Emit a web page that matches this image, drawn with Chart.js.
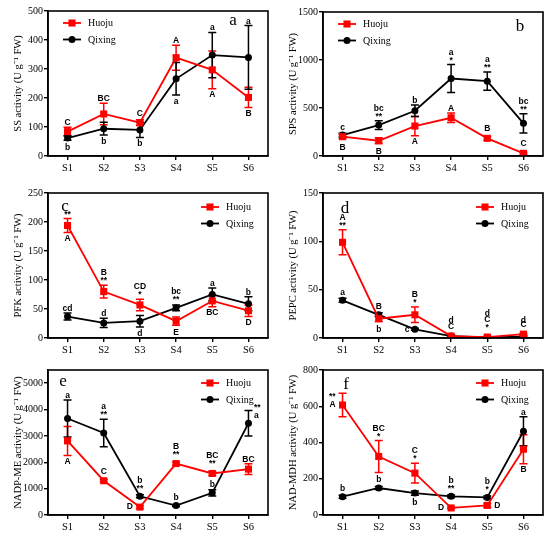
<!DOCTYPE html>
<html>
<head>
<meta charset="utf-8">
<script src="https://cdn.jsdelivr.net/npm/chart.js@4.4.1/dist/chart.umd.min.js"></script>
<style>
body{margin:0;background:#fff;width:550px;height:537px;position:relative;overflow:hidden}
canvas{position:absolute}
</style>
</head>
<body>
<canvas id="pa" width="275" height="178" style="left:0;top:0"></canvas>
<canvas id="pb" width="275" height="178" style="left:275px;top:0"></canvas>
<canvas id="pc" width="275" height="178" style="left:0;top:178px"></canvas>
<canvas id="pd" width="275" height="178" style="left:275px;top:178px"></canvas>
<canvas id="pe" width="275" height="181" style="left:0;top:356px"></canvas>
<canvas id="pf" width="275" height="181" style="left:275px;top:356px"></canvas>
<script>
const stages = ['S1','S2','S3','S4','S5','S6'];

// a - SS
const ssHuoju = [84,145,115,339,297,202];
const ssHuojuErr = [15,37,10,43,65,35];
const ssQixing = [62,94,90,266,348,340];
const ssQixingErr = [8,22,26,56,78,110];
const ssHuojuNote = ['^C','^BC','^C','^A','vA','vB'];
const ssQixingNote = ['vb','vb','vb','va','^a','^a'];

// b - SPS
const spsHuoju = [201,159,312,398,184,28];
const spsHuojuErr = [20,30,100,50,20,10];
const spsQixing = [218,322,471,807,779,340];
const spsQixingErr = [20,45,60,145,95,100];
const spsHuojuNote = ['vB','vB','vA','^A','^B','^C'];
const spsQixingNote = ['^c','^bc\n**','^b','^a\n*','^a\n**','^bc\n**'];

// c - PFK
const pfkHuoju = [194,80,57,29,64,47];
const pfkHuojuErr = [12,11,10,7,10,10];
const pfkQixing = [37,26,29,52,75,59];
const pfkQixingErr = [6,8,10,5,11,12];
const pfkHuojuNote = ['^**|vA','^B\n**','^CD\n*','vE','vBC','vD'];
const pfkQixingNote = ['^cd','^d','vd','^bc\n**','^a','^b'];

// d - PEPC
const pepcHuoju = [99,20,24,2,1,4];
const pepcHuojuErr = [13,3,8,1,1,1];
const pepcQixing = [39,24,9,2,0.5,1.5];
const pepcQixingErr = [2,2,1,1,0.5,0.5];
const pepcHuojuNote = ['^A\n**','vb','^B\n*','^C','^C\n*','^C'];
const pepcQixingNote = ['^a','^B','<c','^d\n','^d\n\n','^d\n'];

// e - NADP-ME
const nadpHuoju = [2810,1300,300,1950,1575,1740];
const nadpHuojuErr = [550,50,50,60,80,200];
const nadpQixing = [3660,3110,710,360,840,3480];
const nadpQixingErr = [700,520,60,40,120,480];
const nadpHuojuNote = ['vA','^C','<D','^B\n**','^BC\n**','^BC'];
const nadpQixingNote = ['^a','^a\n**','^b\n**','^b','^b','>**\na\n'];

// f - NAD-MDH
const mdhHuoju = [607,323,231,39,53,363];
const mdhHuojuErr = [65,88,55,5,10,80];
const mdhQixing = [101,149,121,103,97,462];
const mdhQixingErr = [8,8,12,8,8,80];
const mdhHuojuNote = ['<**\nA','^BC\n*','^C\n*','<D','>D','vB'];
const mdhQixingNote = ['^b','^b','vb','^b\n**','^b\n*','^a'];

const RED = '#ff0000';
const BLACK = '#000000';
const SERIF = 'Liberation Serif';
const SANS = 'Liberation Sans';

function makePanel(id, cfg) {
  const series = [
    {label:'Huoju', vals:cfg.h, err:cfg.he, notes:cfg.hn, color:RED, style:'rect', r:5},
    {label:'Qixing', vals:cfg.q, err:cfg.qe, notes:cfg.qn, color:BLACK, style:'circle', r:3.5}
  ];

  const decor = {
    id:'decor',
    beforeDatasetsDraw(chart) {
      const ctx = chart.ctx, y = chart.scales.y;
      ctx.save();
      series.forEach((s, i) => {
        const meta = chart.getDatasetMeta(i);
        ctx.strokeStyle = s.color;
        ctx.lineWidth = 1.5;
        s.vals.forEach((v, j) => {
          const px = meta.data[j].x;
          const t = y.getPixelForValue(v + s.err[j]);
          const b = Math.min(y.getPixelForValue(v - s.err[j]), chart.chartArea.bottom);
          ctx.beginPath();
          ctx.moveTo(px, t); ctx.lineTo(px, b);
          ctx.moveTo(px - 4, t); ctx.lineTo(px + 4, t);
          ctx.moveTo(px - 4, b); ctx.lineTo(px + 4, b);
          ctx.stroke();
        });
      });
      ctx.restore();
    },
    afterDatasetsDraw(chart) {
      const ctx = chart.ctx, y = chart.scales.y, a = chart.chartArea;
      ctx.save();
      // letters and stars
      ctx.fillStyle = '#000';
      ctx.font = 'bold 8.5px "' + SANS + '"';
      const lh = 8;
      series.forEach((s, i) => {
        const meta = chart.getDatasetMeta(i);
        s.notes.forEach((n, j) => {
          const px = meta.data[j].x, py = meta.data[j].y;
          const t = Math.min(y.getPixelForValue(s.vals[j] + s.err[j]), py - s.r);
          const b = Math.max(y.getPixelForValue(s.vals[j] - s.err[j]), py + s.r);
          n.split('|').forEach(part => {
            const dir = part[0];
            const lines = part.slice(1).split('\n');
            if (dir === '^') {
              ctx.textAlign = 'center'; ctx.textBaseline = 'alphabetic';
              lines.forEach((L, k) => ctx.fillText(L, px, t - 2 - (lines.length - 1 - k) * lh));
            } else if (dir === 'v') {
              ctx.textAlign = 'center'; ctx.textBaseline = 'top';
              lines.forEach((L, k) => ctx.fillText(L, px, b + 2 + k * lh));
            } else {
              ctx.textAlign = dir === '<' ? 'right' : 'left';
              ctx.textBaseline = 'middle';
              const xx = dir === '<' ? px - s.r - 2 : px + s.r + 2;
              lines.forEach((L, k) => ctx.fillText(L, xx, py - (lines.length - 1 - k) * lh));
            }
          });
        });
      });
      // frame
      ctx.strokeStyle = '#000';
      ctx.lineWidth = 1.6;
      ctx.strokeRect(a.left, a.top, a.right - a.left, a.bottom - a.top);
      // legend
      const lx = cfg.legendRight ? a.right - 67 : a.left + 15;
      const ly = a.top + cfg.legendTop;
      ctx.font = '10px "' + SERIF + '"';
      ctx.textAlign = 'left'; ctx.textBaseline = 'middle';
      series.forEach((s, i) => {
        const yy = ly + i * 16.5;
        ctx.strokeStyle = s.color;
        ctx.lineWidth = 1.8;
        ctx.beginPath(); ctx.moveTo(lx, yy); ctx.lineTo(lx + 18, yy); ctx.stroke();
        ctx.fillStyle = s.color;
        ctx.beginPath();
        if (s.style === 'rect') {
          const h = s.r * Math.SQRT1_2;
          ctx.rect(lx + 9 - h, yy - h, 2 * h, 2 * h);
        } else {
          ctx.arc(lx + 9, yy, s.r, 0, Math.PI * 2);
        }
        ctx.fill();
        ctx.fillStyle = '#000';
        ctx.fillText(s.label, lx + 25, yy + 0.5);
      });
      // panel letter
      ctx.font = '17px "' + SERIF + '"';
      ctx.textAlign = 'center'; ctx.textBaseline = 'alphabetic';
      const [fx, fy] = cfg.letterPos;
      ctx.fillText(cfg.letter, fx < 0 ? a.right + fx : a.left + fx, a.top + fy);
      ctx.restore();
    }
  };

  new Chart(document.getElementById(id), {
    type:'line',
    data:{
      datasets: series.map(s => ({
        label:s.label,
        data:s.vals.map((v, i) => ({x:i + 1, y:v})),
        borderColor:s.color,
        backgroundColor:s.color,
        borderWidth:1.8,
        pointStyle:s.style,
        pointRadius:s.r,
        pointBorderWidth:0,
        pointBackgroundColor:s.color,
        tension:0
      }))
    },
    options:{
      responsive:false,
      animation:false,
      layout:{padding:{left:0, right:7, top:cfg.top, bottom:0}},
      plugins:{legend:{display:false}, tooltip:{enabled:false}},
      scales:{
        x:{
          type:'linear', min:0.46, max:6.54,
          afterBuildTicks: sc => { sc.ticks = stages.map((n, i) => ({value:i + 1})); },
          afterFit: sc => { sc.height = cfg.xh; },
          ticks:{callback:v => stages[v - 1], color:'#000', font:{family:SERIF, size:10.5}, padding:2, maxRotation:0, autoSkip:false},
          grid:{drawOnChartArea:false, drawTicks:true, tickLength:4, color:'#000', lineWidth:1.4},
          border:{display:true, color:'#000', width:1.6}
        },
        y:{
          min:0, max:cfg.max,
          ticks:{color:'#000', font:{family:SERIF, size:10}, padding:1, callback:v => String(v)},
          afterBuildTicks: sc => {
            const t = [];
            for (let v = 0; v <= cfg.max; v += cfg.step) t.push({value:v});
            sc.ticks = t;
          },
          afterFit: sc => { sc.width = 48; },
          title:{display:true, text:cfg.title, color:'#000', font:{family:SERIF, size:10.5}, padding:{top:12, bottom:0}},
          grid:{drawOnChartArea:false, drawTicks:true, tickLength:4, color:'#000', lineWidth:1.4},
          border:{display:true, color:'#000', width:1.6}
        }
      }
    },
    plugins:[decor]
  });
}

makePanel('pa', {h:ssHuoju, he:ssHuojuErr, q:ssQixing, qe:ssQixingErr, hn:ssHuojuNote, qn:ssQixingNote,
  max:500, step:100, title:'SS activity (U g\u207B\u00B9 FW)', top:11, xh:22,
  legendRight:false, legendTop:12, letter:'a', letterPos:[-35, 14]});
makePanel('pb', {h:spsHuoju, he:spsHuojuErr, q:spsQixing, qe:spsQixingErr, hn:spsHuojuNote, qn:spsQixingNote,
  max:1500, step:500, title:'SPS activity (U g\u207B\u00B9 FW)', top:12, xh:22,
  legendRight:false, legendTop:12, letter:'b', letterPos:[-23, 19]});
makePanel('pc', {h:pfkHuoju, he:pfkHuojuErr, q:pfkQixing, qe:pfkQixingErr, hn:pfkHuojuNote, qn:pfkQixingNote,
  max:250, step:50, title:'PFK activity (U g\u207B\u00B9 FW)', top:15, xh:18,
  legendRight:true, legendTop:14, letter:'c', letterPos:[17, 18]});
makePanel('pd', {h:pepcHuoju, he:pepcHuojuErr, q:pepcQixing, qe:pepcQixingErr, hn:pepcHuojuNote, qn:pepcQixingNote,
  max:150, step:50, title:'PEPC activity (U g\u207B\u00B9 FW)', top:15, xh:18,
  legendRight:true, legendTop:14, letter:'d', letterPos:[22, 20]});
makePanel('pe', {h:nadpHuoju, he:nadpHuojuErr, q:nadpQixing, qe:nadpQixingErr, hn:nadpHuojuNote, qn:nadpQixingNote,
  max:5500, step:1000, title:'NADP-ME activity (U g\u207B\u00B9 FW)', top:14, xh:22,
  legendRight:true, legendTop:13, letter:'e', letterPos:[15, 16]});
makePanel('pf', {h:mdhHuoju, he:mdhHuojuErr, q:mdhQixing, qe:mdhQixingErr, hn:mdhHuojuNote, qn:mdhQixingNote,
  max:800, step:200, title:'NAD-MDH activity (U g\u207B\u00B9 FW)', top:14, xh:22,
  legendRight:true, legendTop:13, letter:'f', letterPos:[23, 19]});
</script>
</body>
</html>
